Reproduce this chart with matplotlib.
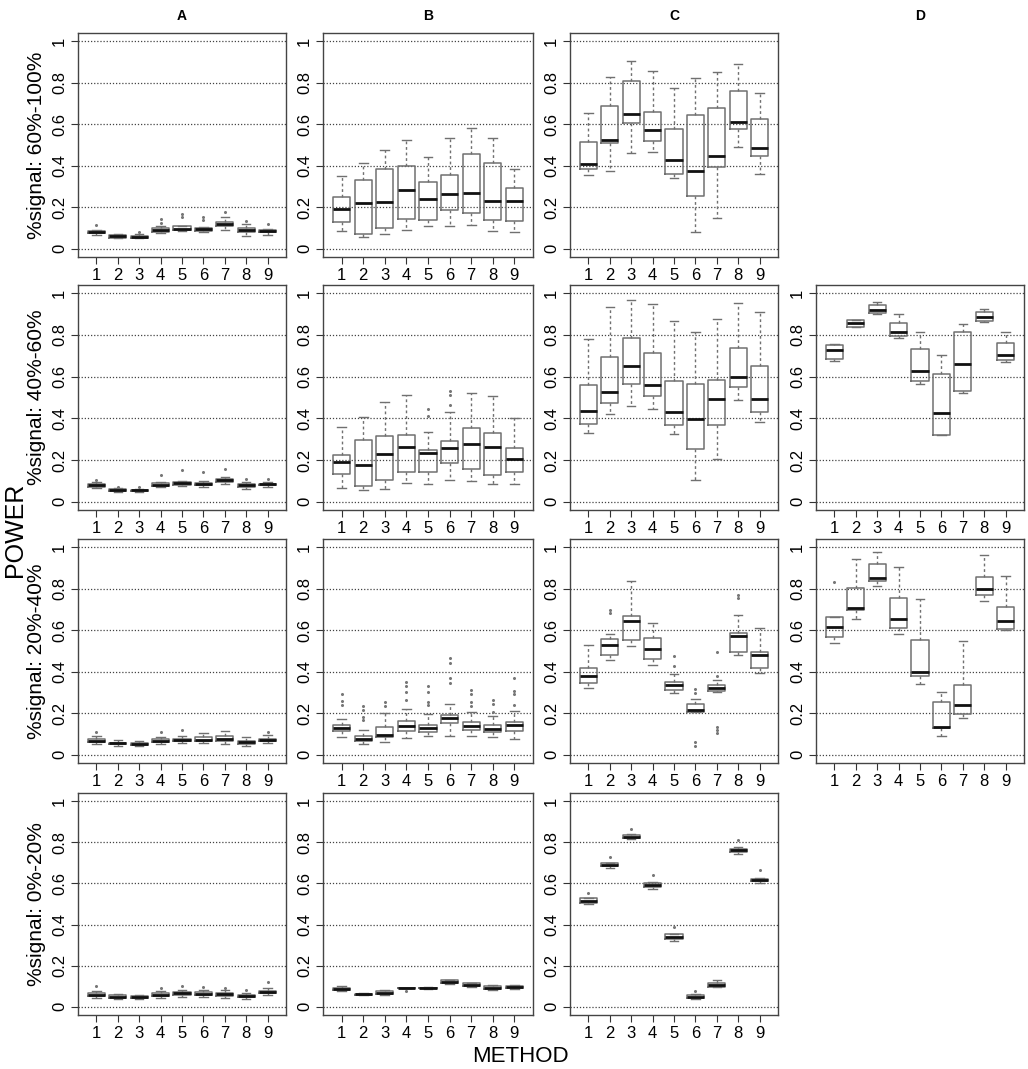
import matplotlib
matplotlib.use('Agg')
import matplotlib.pyplot as plt

plt.rcParams['font.family'] = ['Liberation Sans', 'DejaVu Sans']

methods = [1, 2, 3, 4, 5, 6, 7, 8, 9]
col_titles = ["A", "B", "C", "D"]
row_labels = ["%signal: 60%-100%", "%signal: 40%-60%", "%signal: 20%-40%", "%signal: 0%-20%"]
yticks = [0, 0.2, 0.4, 0.6, 0.8, 1]
ytick_labels = ["0", "0.2", "0.4", "0.6", "0.8", "1"]

# each box: (whisker low, q1, median, q3, whisker high), one per method
A_60 = [(0.068, 0.077, 0.082, 0.087, 0.090), (0.050, 0.054, 0.060, 0.068, 0.072),
        (0.050, 0.054, 0.058, 0.062, 0.072), (0.078, 0.082, 0.090, 0.100, 0.110),
        (0.085, 0.090, 0.095, 0.108, 0.110), (0.080, 0.085, 0.093, 0.100, 0.105),
        (0.088, 0.110, 0.120, 0.130, 0.155), (0.063, 0.080, 0.088, 0.100, 0.120),
        (0.065, 0.080, 0.085, 0.090, 0.095)]
A_60_out = [[0.115], [], [0.080], [0.145, 0.125], [0.165, 0.155], [0.155, 0.140],
            [0.175], [0.132], [0.120]]

B_60 = [(0.085, 0.128, 0.191, 0.247, 0.350), (0.058, 0.072, 0.222, 0.329, 0.413),
        (0.069, 0.101, 0.226, 0.385, 0.478), (0.091, 0.144, 0.284, 0.398, 0.525),
        (0.108, 0.140, 0.241, 0.324, 0.441), (0.109, 0.185, 0.266, 0.353, 0.533),
        (0.114, 0.173, 0.268, 0.457, 0.584), (0.085, 0.140, 0.230, 0.413, 0.536),
        (0.080, 0.135, 0.228, 0.295, 0.385)]
B_60_out = [[] for _ in methods]

C_60 = [(0.356, 0.382, 0.406, 0.514, 0.655), (0.374, 0.512, 0.525, 0.687, 0.827),
        (0.461, 0.605, 0.650, 0.807, 0.907), (0.465, 0.518, 0.573, 0.661, 0.859),
        (0.339, 0.361, 0.429, 0.576, 0.774), (0.080, 0.255, 0.374, 0.647, 0.822),
        (0.149, 0.396, 0.449, 0.676, 0.851), (0.490, 0.576, 0.610, 0.759, 0.891),
        (0.360, 0.449, 0.485, 0.623, 0.751)]
C_60_out = [[] for _ in methods]

A_40 = [(0.065, 0.072, 0.080, 0.085, 0.095), (0.048, 0.052, 0.057, 0.060, 0.065),
        (0.045, 0.050, 0.055, 0.058, 0.062), (0.070, 0.077, 0.082, 0.088, 0.095),
        (0.075, 0.082, 0.088, 0.092, 0.100), (0.070, 0.078, 0.085, 0.090, 0.100),
        (0.085, 0.095, 0.103, 0.110, 0.120), (0.060, 0.070, 0.078, 0.085, 0.095),
        (0.070, 0.078, 0.083, 0.087, 0.092)]
A_40_out = [[0.105], [0.072], [0.070], [0.130], [0.150], [0.140], [0.155], [0.110], [0.110]]

B_40 = [(0.066, 0.133, 0.190, 0.222, 0.357), (0.056, 0.074, 0.175, 0.296, 0.407),
        (0.063, 0.103, 0.228, 0.314, 0.479), (0.088, 0.143, 0.262, 0.322, 0.511),
        (0.085, 0.140, 0.233, 0.249, 0.336), (0.105, 0.185, 0.256, 0.289, 0.428),
        (0.098, 0.158, 0.277, 0.352, 0.523), (0.087, 0.130, 0.262, 0.330, 0.506),
        (0.087, 0.140, 0.205, 0.258, 0.400)]
B_40_out = [[], [], [], [], [0.445, 0.410], [0.531, 0.510, 0.466], [], [], []]

C_40 = [(0.330, 0.374, 0.437, 0.558, 0.783), (0.421, 0.473, 0.524, 0.693, 0.932),
        (0.461, 0.563, 0.650, 0.785, 0.969), (0.445, 0.505, 0.561, 0.714, 0.949),
        (0.326, 0.368, 0.431, 0.577, 0.868), (0.105, 0.251, 0.399, 0.566, 0.815),
        (0.207, 0.367, 0.495, 0.582, 0.879), (0.490, 0.551, 0.600, 0.736, 0.953),
        (0.381, 0.431, 0.492, 0.650, 0.908)]
C_40_out = [[] for _ in methods]

D_40 = [(0.676, 0.686, 0.726, 0.750, 0.757), (0.837, 0.840, 0.857, 0.870, 0.874),
        (0.902, 0.907, 0.921, 0.944, 0.957), (0.786, 0.795, 0.812, 0.857, 0.899),
        (0.565, 0.581, 0.626, 0.734, 0.812), (0.320, 0.320, 0.425, 0.612, 0.702),
        (0.522, 0.533, 0.663, 0.816, 0.852), (0.863, 0.866, 0.887, 0.911, 0.924),
        (0.668, 0.678, 0.702, 0.763, 0.815)]
D_40_out = [[] for _ in methods]

A_20 = [(0.050, 0.062, 0.068, 0.075, 0.090), (0.043, 0.050, 0.055, 0.058, 0.070),
        (0.040, 0.048, 0.052, 0.056, 0.065), (0.050, 0.062, 0.068, 0.075, 0.085),
        (0.055, 0.066, 0.072, 0.078, 0.090), (0.055, 0.065, 0.073, 0.083, 0.105),
        (0.050, 0.065, 0.075, 0.090, 0.115), (0.040, 0.053, 0.060, 0.065, 0.085),
        (0.058, 0.068, 0.073, 0.078, 0.095)]
A_20_out = [[0.110], [], [], [0.110], [0.120], [], [], [], [0.110]]

B_20 = [(0.085, 0.116, 0.129, 0.141, 0.172), (0.053, 0.064, 0.076, 0.088, 0.121),
        (0.059, 0.084, 0.096, 0.133, 0.201), (0.080, 0.114, 0.137, 0.161, 0.220),
        (0.092, 0.111, 0.127, 0.145, 0.196), (0.088, 0.153, 0.175, 0.191, 0.246),
        (0.092, 0.119, 0.138, 0.156, 0.204), (0.085, 0.111, 0.124, 0.141, 0.185),
        (0.077, 0.116, 0.145, 0.156, 0.209)]
B_20_out = [[0.294, 0.257, 0.241], [0.233, 0.217, 0.180, 0.166], [0.252, 0.233],
            [0.350, 0.330, 0.300, 0.262], [0.330, 0.300, 0.252, 0.238],
            [0.466, 0.442, 0.370, 0.346], [0.313, 0.294, 0.252, 0.233],
            [0.265, 0.246, 0.204], [0.370, 0.305, 0.294, 0.241]]

C_20 = [(0.322, 0.344, 0.381, 0.418, 0.527), (0.458, 0.481, 0.531, 0.558, 0.582),
        (0.526, 0.555, 0.646, 0.670, 0.839), (0.431, 0.461, 0.510, 0.561, 0.635),
        (0.296, 0.314, 0.336, 0.349, 0.391), (0.204, 0.207, 0.217, 0.244, 0.270),
        (0.302, 0.309, 0.323, 0.338, 0.359), (0.482, 0.497, 0.571, 0.585, 0.674),
        (0.395, 0.416, 0.479, 0.495, 0.613)]
C_20_out = [[], [0.699, 0.683], [], [], [0.477, 0.429], [0.317, 0.297, 0.061, 0.043],
            [0.495, 0.381, 0.132, 0.117, 0.103], [0.770, 0.757], []]

D_20 = [(0.540, 0.569, 0.616, 0.662, 0.662), (0.654, 0.700, 0.705, 0.804, 0.945),
        (0.812, 0.836, 0.852, 0.918, 0.979), (0.580, 0.609, 0.654, 0.756, 0.904),
        (0.339, 0.379, 0.397, 0.555, 0.749), (0.092, 0.127, 0.135, 0.254, 0.302),
        (0.178, 0.196, 0.240, 0.338, 0.548), (0.741, 0.768, 0.799, 0.857, 0.965),
        (0.603, 0.606, 0.646, 0.711, 0.860)]
D_20_out = [[0.833], [], [], [], [], [], [], [], []]

A_0 = [(0.045, 0.052, 0.058, 0.065, 0.075), (0.040, 0.045, 0.050, 0.055, 0.060),
       (0.040, 0.044, 0.048, 0.053, 0.058), (0.045, 0.052, 0.058, 0.065, 0.075),
       (0.050, 0.058, 0.065, 0.070, 0.080), (0.048, 0.055, 0.063, 0.070, 0.080),
       (0.045, 0.052, 0.060, 0.068, 0.080), (0.040, 0.047, 0.052, 0.058, 0.068),
       (0.055, 0.065, 0.072, 0.078, 0.090)]
A_0_out = [[0.100], [], [], [0.090], [0.100], [0.095], [0.090], [0.080], [0.120]]

B_0 = [(0.078, 0.082, 0.088, 0.093, 0.100), (0.055, 0.058, 0.061, 0.063, 0.065),
       (0.055, 0.062, 0.068, 0.075, 0.080), (0.090, 0.090, 0.092, 0.093, 0.093),
       (0.085, 0.091, 0.092, 0.093, 0.098), (0.113, 0.115, 0.122, 0.128, 0.130),
       (0.098, 0.100, 0.108, 0.115, 0.118), (0.083, 0.085, 0.092, 0.103, 0.105),
       (0.087, 0.093, 0.097, 0.100, 0.105)]
B_0_out = [[], [], [], [0.078], [], [], [], [], []]

C_0 = [(0.501, 0.507, 0.517, 0.527, 0.530), (0.674, 0.684, 0.690, 0.698, 0.700),
       (0.814, 0.819, 0.827, 0.835, 0.840), (0.571, 0.583, 0.591, 0.600, 0.605),
       (0.321, 0.332, 0.340, 0.352, 0.356), (0.040, 0.043, 0.048, 0.055, 0.061),
       (0.095, 0.098, 0.104, 0.114, 0.132), (0.743, 0.754, 0.762, 0.770, 0.779),
       (0.604, 0.612, 0.618, 0.623, 0.626)]
C_0_out = [[0.554], [0.730], [0.867], [0.642], [0.388], [0.077], [], [0.811], [0.666]]

# grid of panels, None where no panel was drawn
panels = [
    [(A_60, A_60_out), (B_60, B_60_out), (C_60, C_60_out), None],
    [(A_40, A_40_out), (B_40, B_40_out), (C_40, C_40_out), (D_40, D_40_out)],
    [(A_20, A_20_out), (B_20, B_20_out), (C_20, C_20_out), (D_20, D_20_out)],
    [(A_0, A_0_out), (B_0, B_0_out), (C_0, C_0_out), None],
]

W, H = 1028, 1069
fig = plt.figure(figsize=(W / 100, H / 100), dpi=100)

col_px = [(78, 286), (323, 533), (570, 778), (816, 1024)]
row_px = [(33, 257), (285, 510), (539, 763), (793, 1015)]

for r in range(4):
    for c in range(4):
        if panels[r][c] is None:
            continue
        boxes, outs = panels[r][c]
        l, rr = col_px[c]
        t, b = row_px[r]
        ax = fig.add_axes([l / W, 1 - b / H, (rr - l) / W, (b - t) / H])
        stats = []
        for (lo, q1, med, q3, hi), fl in zip(boxes, outs):
            stats.append(dict(whislo=lo, q1=q1, med=med, q3=q3, whishi=hi, fliers=fl))
        for y in yticks:
            ax.axhline(y, color="#444444", lw=0.9, ls=(0, (1, 1.5)), zorder=0)
        ax.bxp(stats, positions=methods, widths=0.8, capwidths=0.4,
               boxprops=dict(color="#707070", lw=1.1),
               medianprops=dict(color="#111111", lw=2.0),
               whiskerprops=dict(color="#707070", lw=1.0, ls=(0, (2, 2))),
               capprops=dict(color="#707070", lw=1.0),
               flierprops=dict(marker='o', markersize=1.2, markerfacecolor="#777777",
                               markeredgecolor="#777777", lw=0))
        ax.set_xlim(0.14, 9.86)
        ax.set_ylim(-0.04, 1.04)
        ax.set_xticks(methods)
        ax.set_xticklabels([str(m) for m in methods], fontsize=12)
        ax.set_yticks(yticks)
        ax.set_yticklabels(ytick_labels, fontsize=12, rotation=90, va='center')
        ax.tick_params(direction='out', length=5, width=0.8, color="#333333", pad=3)
        for s in ax.spines.values():
            s.set_color("#444444")
            s.set_linewidth(1.0)
        if c == 0:
            ax.set_ylabel(row_labels[r], fontsize=15, labelpad=4)

# column titles
for c, name in enumerate(col_titles):
    l, rr = col_px[c]
    fig.text((l + rr) / 2 / W, 1 - 16 / H, name, ha='center', va='center',
             fontsize=10, fontweight='bold')

fig.text(15 / W, 1 - 530 / H, "POWER", rotation=90, ha='center', va='center', fontsize=18)
fig.text(520 / W, 1 - 1057 / H, "METHOD", ha='center', va='center', fontsize=16)

fig.savefig("out.png", dpi=100)
